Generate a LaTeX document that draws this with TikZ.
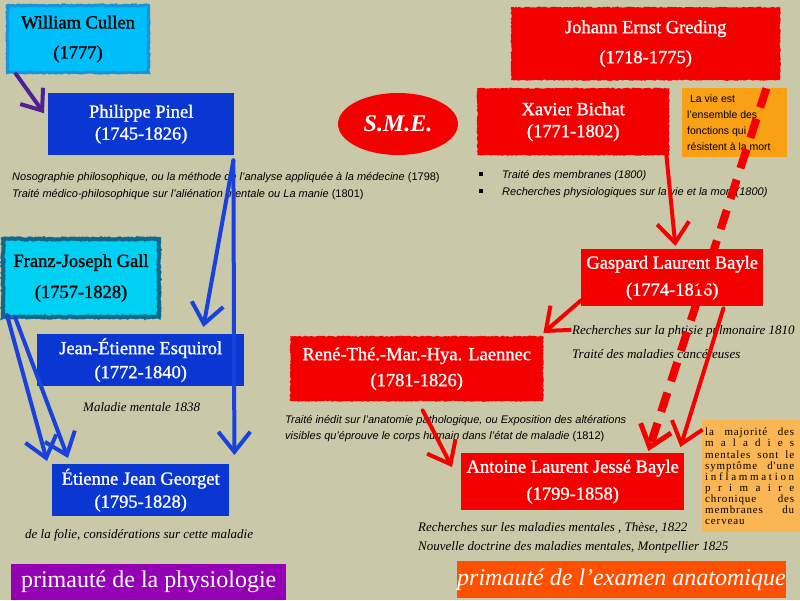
\documentclass[tikz,border=0pt]{standalone}
\usepackage{fontspec}
\setmainfont{Liberation Serif}
\setsansfont{Liberation Sans}
\newfontfamily\namefont{Liberation Serif}[FakeBold=1.2]
\newfontfamily\majfont{Liberation Serif}[LetterSpace=8]
\usetikzlibrary{shapes.geometric,arrows.meta,decorations.pathmorphing}
\definecolor{bgc}{RGB}{201,200,168}
\definecolor{cullenfill}{RGB}{0,190,250}
\definecolor{cullenline}{RGB}{20,150,220}
\definecolor{gallfill}{RGB}{0,208,242}
\definecolor{gallline}{RGB}{15,105,140}
\definecolor{bluebox}{RGB}{10,55,210}
\definecolor{bluearr}{RGB}{25,65,220}
\definecolor{purplearr}{RGB}{80,30,150}
\definecolor{redbox}{RGB}{245,0,0}
\definecolor{viefill}{RGB}{250,160,20}
\definecolor{majfill}{RGB}{250,182,85}
\definecolor{physio}{RGB}{150,0,180}
\definecolor{anat}{RGB}{255,80,0}
\begin{document}
\begin{tikzpicture}[x=1pt,y=-1pt,
  namebox/.style={anchor=north west, inner sep=0pt, align=center, text=white,
    font=\namefont\fontsize{18.5}{21}\selectfont},
  rough/.style={decorate, decoration={random steps, segment length=1.5pt, amplitude=0.6pt}},
  sansnote/.style={anchor=base west, inner sep=0pt, font=\sffamily\fontsize{11}{13}\selectfont},
  serifnote/.style={anchor=base west, inner sep=0pt, font=\itshape\fontsize{13}{15}\selectfont},
  labelbox/.style={anchor=north west, inner sep=0pt, text=white, font=\fontsize{24}{28}\selectfont},
  bluearrow/.style={draw=bluearr, line width=4pt, line cap=round,
    -{Straight Barb[length=20pt,width=32pt,line width=4pt]}},
  redarrow/.style={draw=redbox, line width=4pt, line cap=round,
    -{Straight Barb[length=20pt,width=32pt,line width=4pt]}},
  purplearrow/.style={draw=purplearr, line width=4pt, line cap=round,
    -{Straight Barb[length=18pt,width=28pt,line width=4pt]}},
  dasharrow/.style={draw=redbox, line width=8pt, dash pattern=on 20pt off 12pt,
    -{Straight Barb[length=20pt,width=32pt,line width=5pt]}},
  bullet/.style={fill=black, minimum size=3.5pt, inner sep=0pt}
]
\fill[bgc] (0,0) rectangle (800,600);
\useasboundingbox (0,0) rectangle (800,600);

% left side boxes
\node[namebox, text=black, fill=cullenfill, draw=cullenline, line width=3pt, rough,
  minimum width=141pt, minimum height=67pt] (cullen) at (6,4) {William Cullen\\[9pt](1777)};
\node[namebox, fill=bluebox, minimum width=186pt, minimum height=62pt] (pinel) at (48,93)
  {Philippe Pinel\\[1pt](1745-1826)};
\node[namebox, text=black, fill=gallfill, draw=gallline, line width=4pt, rough,
  minimum width=156pt, minimum height=78pt] (gall) at (1,237) {Franz-Joseph Gall\\[10pt](1757-1828)};
\node[namebox, fill=bluebox, minimum width=207pt, minimum height=52pt] (esquirol) at (37,334)
  {Jean-Étienne Esquirol\\[3pt](1772-1840)};
\node[namebox, fill=bluebox, minimum width=177pt, minimum height=52pt] (georget) at (52,464)
  {Étienne Jean Georget\\[2pt](1795-1828)};

% ellipse
\node[ellipse, fill=redbox, minimum width=120pt, minimum height=62pt, inner sep=0pt,
  text=white, font=\bfseries\itshape\fontsize{24}{28}\selectfont] (sme) at (398,124) {S.M.E.};

% right side boxes
\node[namebox, fill=redbox, rough, minimum width=269pt, minimum height=73pt] (greding) at (511,7)
  {Johann Ernst Greding\\[9pt](1718-1775)};
\node[namebox, fill=redbox, rough, minimum width=192pt, minimum height=67pt] (bichat) at (477,88)
  {Xavier Bichat\\[1pt](1771-1802)};
\node[anchor=north west, fill=viefill, minimum width=105pt, minimum height=69pt, inner sep=0pt] (vie) at (682,88) {};
\node[anchor=north west, inner sep=0pt, align=left, font=\sffamily\fontsize{10.5}{16}\selectfont] (vietext) at (687,95)
  {\ La vie est\\l'ensemble des\\fonctions qui\\résistent à la mort};
\node[namebox, fill=redbox, minimum width=182pt, minimum height=57pt] (gaspard) at (581,249)
  {Gaspard Laurent Bayle\\[6pt](1774-1816)};
\node[namebox, fill=redbox, rough, minimum width=253pt, minimum height=65pt] (laennec) at (290,336)
  {René-Thé.-Mar.-Hya. Laennec\\[5pt](1781-1826)};
\node[namebox, fill=redbox, minimum width=223pt, minimum height=57pt] (antoine) at (461,453)
  {Antoine Laurent Jessé Bayle\\[6pt](1799-1858)};
\node[anchor=north west, fill=majfill, minimum width=98pt, minimum height=112pt, inner sep=0pt] (maj) at (702,420) {};
\node[anchor=north west, inner sep=0pt, align=left, font=\majfont\fontsize{11}{11.1}\selectfont] (majtext) at (705,428)
  {\makebox[89pt][s]{la majorité des}\\
   \makebox[89pt][s]{m a l a d i e s}\\
   \makebox[89pt][s]{mentales sont le}\\
   \makebox[89pt][s]{symptôme d'une}\\
   \makebox[89pt][s]{i n f l a m m a t i o n}\\
   \makebox[89pt][s]{p r i m a i r e}\\
   \makebox[89pt][s]{chronique des}\\
   \makebox[89pt][s]{membranes du}\\
   cerveau};

% notes
\node[sansnote] (pn1) at (12,180) {\textit{Nosographie philosophique, ou la méthode de l'analyse appliquée à la médecine} (1798)};
\node[sansnote] (pn2) at (12,197) {\textit{Traité médico-philosophique sur l'aliénation mentale ou La manie} (1801)};
\node[serifnote] (en1) at (83,411) {Maladie mentale 1838};
\node[serifnote] (gn1) at (25,538) {de la folie, considérations sur cette maladie};
\node[bullet] (b1) at (481,174) {};
\node[bullet] (b2) at (481,191) {};
\node[sansnote, font=\sffamily\itshape\fontsize{11}{13}\selectfont] (bn1) at (502,178) {Traité des membranes (1800)};
\node[sansnote, font=\sffamily\itshape\fontsize{11}{13}\selectfont] (bn2) at (502,195) {Recherches physiologiques sur la vie et la mort (1800)};
\node[serifnote] (gb1) at (572,334) {Recherches sur la phtisie pulmonaire 1810};
\node[serifnote] (gb2) at (572,358) {Traité des maladies cancéreuses};
\node[sansnote] (ln1) at (285,423) {\textit{Traité inédit sur l'anatomie pathologique, ou Exposition des altérations}};
\node[sansnote] (ln2) at (285,439) {\textit{visibles qu'éprouve le corps humain dans l'état de maladie} (1812)};
\node[serifnote] (ab1) at (418,531) {Recherches sur les maladies mentales , Thèse, 1822};
\node[serifnote] (ab2) at (418,550) {Nouvelle doctrine des maladies mentales, Montpellier 1825};

% bottom labels
\node[labelbox, fill=physio, minimum width=275pt, minimum height=36pt] (physlab) at (11,564) {primauté de la physiologie};
\node[labelbox, fill=anat, minimum width=321pt, minimum height=37pt, font=\itshape\fontsize{24}{28}\selectfont] (anatlab) at (457,561) {primauté de l'examen anatomique};

% connectors
\draw[purplearrow] ([xshift=10pt]cullen.south west) -- ([xshift=-4pt,yshift=11pt]pinel.west);
\draw[bluearrow] ([xshift=-1pt,yshift=-5pt]pinel.south east) -- ([xshift=-41pt,yshift=7pt]esquirol.north east);
\draw[bluearrow] ([xshift=-1pt,yshift=-5pt]pinel.south east) -- ([xshift=5pt,yshift=9pt]georget.north east);
\draw[bluearrow] ([xshift=6pt,yshift=4pt]gall.south west) -- ([xshift=-5pt,yshift=3pt]georget.north west);
\draw[bluearrow] ([xshift=14pt,yshift=2pt]gall.south west) -- ([xshift=16pt,yshift=6pt]georget.north west);
\draw[redarrow] ([xshift=-3pt]bichat.south east) -- ([xshift=-88pt,yshift=3pt]gaspard.north east);
\draw[dasharrow] ([xshift=-14pt,yshift=-8pt]greding.south east) -- ([xshift=-36pt,yshift=2pt]antoine.north east);
\draw[redarrow] ([xshift=-40pt,yshift=-2pt]gaspard.south east) -- ([xshift=-4pt,yshift=6pt]antoine.north east);
\draw[redarrow] ([yshift=6pt]gaspard.south west) -- ([yshift=3pt]laennec.north east);
\draw[redarrow] ([xshift=6pt,yshift=-9pt]laennec.south) -- ([xshift=-9pt,yshift=-14pt]antoine.north west);
\end{tikzpicture}
\end{document}
